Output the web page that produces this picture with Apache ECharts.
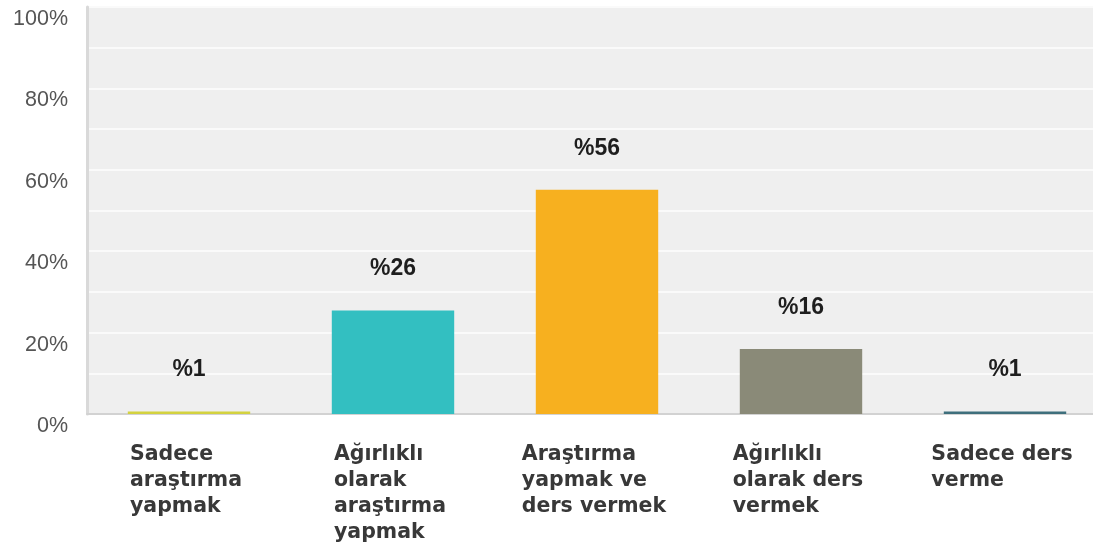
<!DOCTYPE html>
<html>
<head>
<meta charset="utf-8">
<script src="https://cdn.jsdelivr.net/npm/echarts@6/dist/echarts.min.js"></script>
<style>
html,body{margin:0;padding:0;background:#fff;}
#chart{width:1093px;height:552px;}
</style>
</head>
<body>
<div id="chart"></div>
<script>
const categories = [
  'Sadece\naraştırma\nyapmak',
  'Ağırlıklı\nolarak\naraştırma\nyapmak',
  'Araştırma\nyapmak ve\nders vermek',
  'Ağırlıklı\nolarak ders\nvermek',
  'Sadece ders\nverme'
];
const values = [0.6, 25.4, 55.1, 16.0, 0.6];
const valueLabels = ['%1', '%26', '%56', '%16', '%1'];
const barColors = ['#d3d23f', '#33bfc1', '#f7b01f', '#8a8a78', '#3e6f7c'];
const yTickLabels = { 0: '0%', 20: '20%', 40: '40%', 60: '60%', 80: '80%', 100: '100%' };

const chart = echarts.init(document.getElementById('chart'));
chart.setOption({
  animation: false,
  backgroundColor: '#ffffff',
  grid: {
    left: 87, top: 7, width: 1020, height: 407,
    outerBoundsMode: 'none',
    containLabel: false,
    show: true, backgroundColor: '#efefef', borderWidth: 0
  },
  xAxis: {
    type: 'category',
    data: categories,
    axisLine: { show: true, lineStyle: { color: '#d2d2d2', width: 2 } },
    axisTick: { show: false },
    axisLabel: {
      interval: 0,
      margin: 28,
      align: 'center',
      formatter: v => '{a|' + v + '}',
      rich: {
        a: {
          fontFamily: 'DejaVu Sans',
          fontWeight: 'bold',
          fontSize: 20.5,
          lineHeight: 26,
          color: '#383838',
          align: 'left',
          padding: [0, 6, 0, 0]
        }
      }
    }
  },
  yAxis: {
    type: 'value',
    min: 0, max: 100, interval: 10,
    axisLine: { show: true, lineStyle: { color: '#d9d9d9', width: 3 } },
    axisTick: { show: false },
    splitLine: { show: true, lineStyle: { color: '#fafafa', width: 2 } },
    axisLabel: {
      margin: 19,
      verticalAlign: 'top',
      fontFamily: 'Liberation Sans',
      fontSize: 21.5,
      lineHeight: 24,
      color: '#555',
      formatter: v => yTickLabels[v] || ''
    }
  },
  series: [{
    type: 'bar',
    data: values.map((v, i) => ({ value: v, itemStyle: { color: barColors[i] } })),
    barWidth: '60%',
    label: {
      show: true,
      position: 'top',
      distance: 30,
      fontFamily: 'Liberation Sans',
      fontWeight: 'bold',
      fontSize: 23,
      color: '#1e1e1e',
      formatter: p => valueLabels[p.dataIndex]
    }
  }]
});
</script>
</body>
</html>
